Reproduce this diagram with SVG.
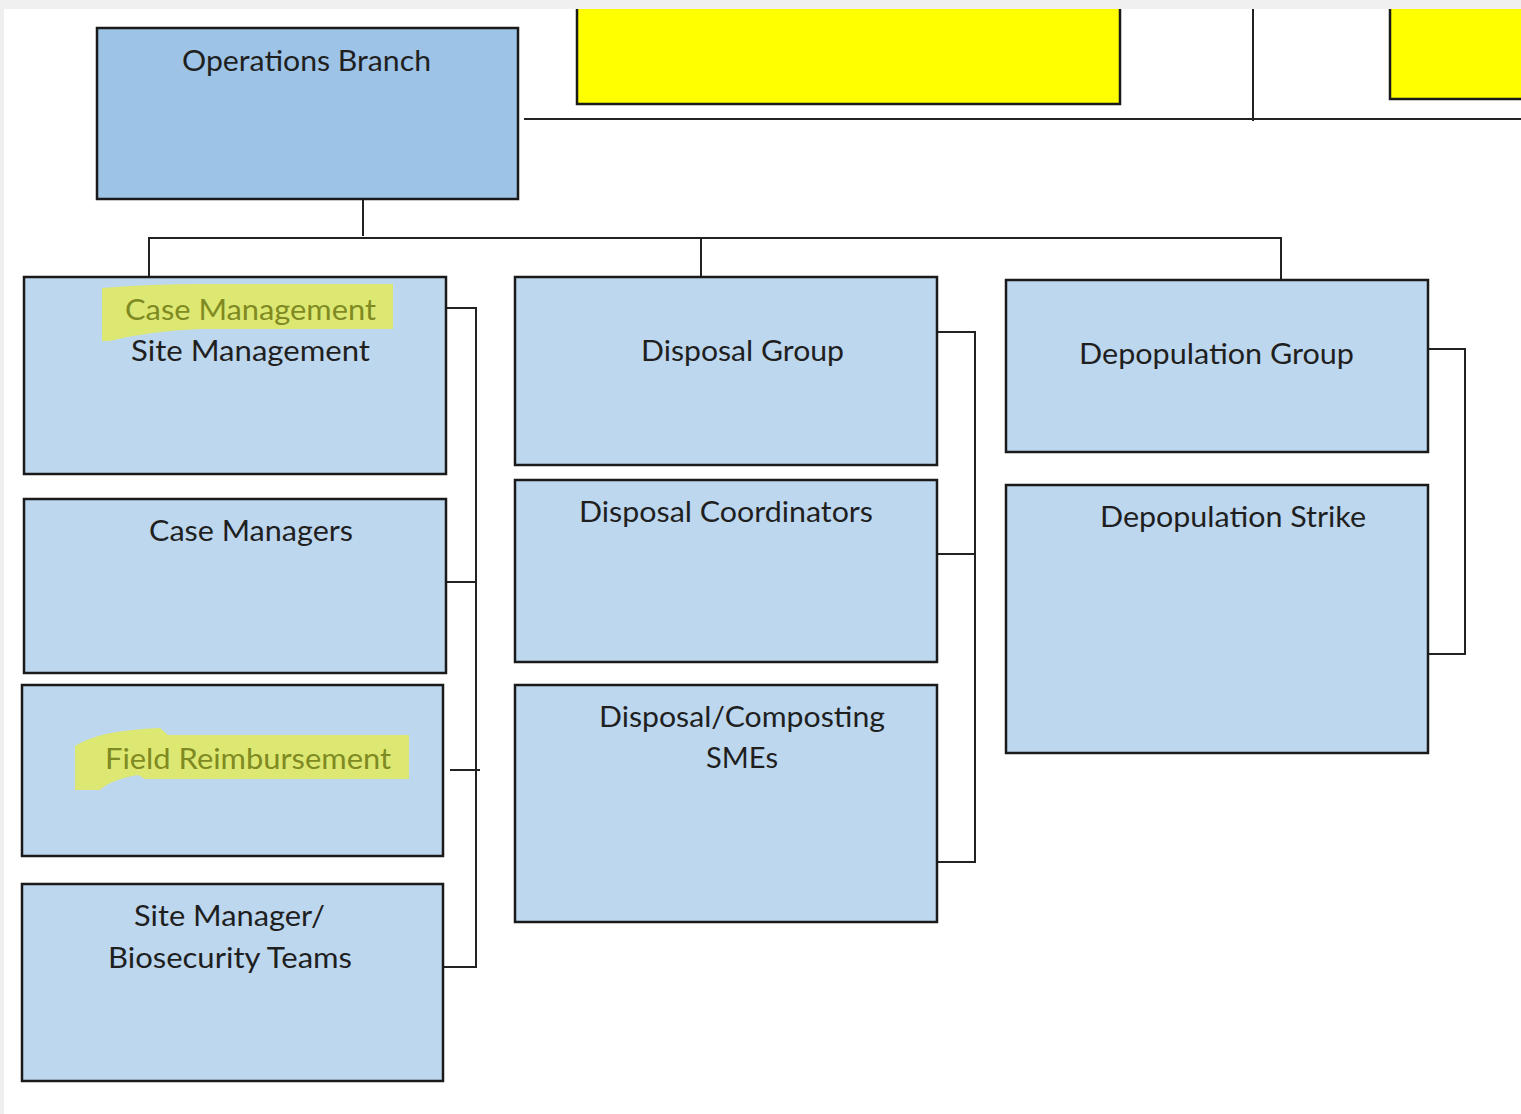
<svg xmlns="http://www.w3.org/2000/svg" width="1521" height="1114" viewBox="0 0 1521 1114">
<style>
.box{fill:#bdd7ee;stroke:#1a1a1a;stroke-width:2.5}
.top{fill:#9dc3e6;stroke:#1a1a1a;stroke-width:2.5}
.yel{fill:#ffff00;stroke:#1a1a1a;stroke-width:2.5}
.lbl{font-family:Lato,"Open Sans","Liberation Sans",sans-serif;font-size:29px;fill:#1f1f1f}
.hl{fill:#7f8a22}
.mark{fill:#dde873}
.con{fill:none;stroke:#222;stroke-width:2}
</style>
<rect x="0" y="0" width="1521" height="1114" fill="#ffffff"/>
<g id="connectors">
<path class="con" d="M524 119H1521M1253 9V121M363 199V236M149 277V238H1281V280M701 238V277"/>
<path class="con" d="M446 308H476V967H443M442 582H476M450 770H480"/>
<path class="con" d="M937 332H975V862H937M933 554H975"/>
<path class="con" d="M1428 349H1465V654H1428"/>
</g>
<g id="yellow-1"><rect class="yel" x="577" y="2" width="543" height="102"/></g>
<g id="yellow-2"><rect class="yel" x="1390" y="2" width="140" height="97"/></g>
<g id="operations-branch">
<rect class="top" x="97" y="28" width="421" height="171"/>
<text class="lbl" x="182" y="71" textLength="249" lengthAdjust="spacingAndGlyphs">Operations Branch</text>
</g>
<g id="case-site-management">
<rect class="box" x="24" y="277" width="422" height="197"/>
<path class="mark" d="M102 288Q150 284 200 284H393V329H200Q150 331 110 341H102Z"/>
<text class="lbl hl" x="125" y="320" textLength="251" lengthAdjust="spacingAndGlyphs">Case Management</text>
<text class="lbl" x="131" y="361" textLength="239" lengthAdjust="spacingAndGlyphs">Site Management</text>
</g>
<g id="case-managers">
<rect class="box" x="24" y="499" width="422" height="174"/>
<text class="lbl" x="149" y="541" textLength="204" lengthAdjust="spacingAndGlyphs">Case Managers</text>
</g>
<g id="field-reimbursement">
<rect class="box" x="22" y="685" width="421" height="171"/>
<path class="mark" d="M75 746Q100 730 160 728L168 735H409V779H145L138 775Q110 780 100 790H75Z"/>
<text class="lbl hl" x="105" y="769" textLength="286" lengthAdjust="spacingAndGlyphs">Field Reimbursement</text>
</g>
<g id="site-manager-biosecurity">
<rect class="box" x="22" y="884" width="421" height="197"/>
<text class="lbl" x="134" y="926" textLength="191" lengthAdjust="spacingAndGlyphs">Site Manager/</text>
<text class="lbl" x="108" y="968" textLength="244" lengthAdjust="spacingAndGlyphs">Biosecurity Teams</text>
</g>
<g id="disposal-group">
<rect class="box" x="515" y="277" width="422" height="188"/>
<text class="lbl" x="641" y="361" textLength="203" lengthAdjust="spacingAndGlyphs">Disposal Group</text>
</g>
<g id="disposal-coordinators">
<rect class="box" x="515" y="480" width="422" height="182"/>
<text class="lbl" x="579" y="522" textLength="294" lengthAdjust="spacingAndGlyphs">Disposal Coordinators</text>
</g>
<g id="disposal-composting">
<rect class="box" x="515" y="685" width="422" height="237"/>
<text class="lbl" x="599" y="727" textLength="286" lengthAdjust="spacingAndGlyphs">Disposal/Composting</text>
<text class="lbl" x="706" y="768" textLength="72" lengthAdjust="spacingAndGlyphs">SMEs</text>
</g>
<g id="depopulation-group">
<rect class="box" x="1006" y="280" width="422" height="172"/>
<text class="lbl" x="1079" y="364" textLength="275" lengthAdjust="spacingAndGlyphs">Depopulation Group</text>
</g>
<g id="depopulation-strike">
<rect class="box" x="1006" y="485" width="422" height="268"/>
<text class="lbl" x="1100" y="527" textLength="266" lengthAdjust="spacingAndGlyphs">Depopulation Strike</text>
</g>
<rect x="0" y="0" width="1521" height="9" fill="#f0f0f0"/>
<rect x="0" y="9" width="4" height="1105" fill="#eeeeee"/>
</svg>
